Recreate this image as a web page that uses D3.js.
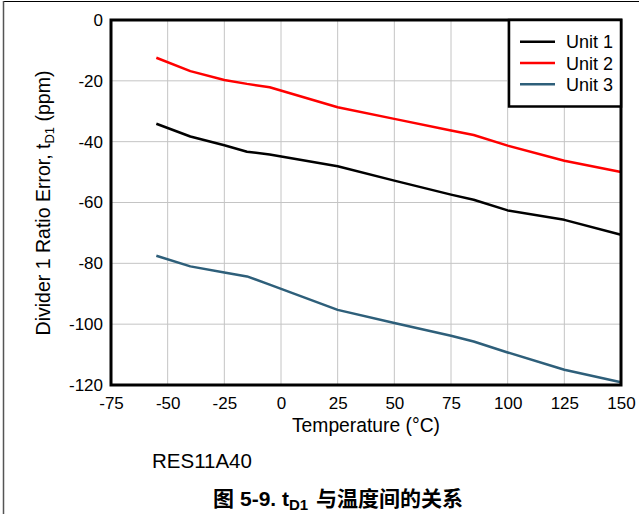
<!DOCTYPE html>
<html>
<head>
<meta charset="utf-8">
<script src="https://cdn.jsdelivr.net/npm/d3@7/dist/d3.min.js"></script>
<style>
  html, body { margin: 0; padding: 0; background: #fff; }
  svg { display: block; font-family: "Liberation Sans", Arial, sans-serif; }
</style>
</head>
<body>
<svg id="chart" width="639" height="514"></svg>
<script>
// Temperature sweep points (°C)
const temps = [-55, -40, -25, -15, -5, 25, 50, 75, 85, 100, 125, 150];
// Divider 1 ratio error per unit (ppm)
const unit1 = [-34.1, -38.3, -41.2, -43.3, -44.2, -48.1, -52.8, -57.4, -59.1, -62.6, -65.7, -70.6];
const unit2 = [-12.4, -16.8, -19.7, -21.0, -22.1, -28.7, -32.5, -36.3, -37.8, -41.3, -46.3, -50.0];
const unit3 = [-77.5, -81.0, -83.0, -84.3, -87.0, -95.3, -99.6, -103.8, -105.7, -109.3, -115.0, -119.1];
const seriesNames = ["Unit 1", "Unit 2", "Unit 3"];
const seriesColors = ["#000000", "#ff0000", "#2e5f7a"];
const xTicks = [-75, -50, -25, 0, 25, 50, 75, 100, 125, 150];
const yTicks = [0, -20, -40, -60, -80, -100, -120];

const series = [unit1, unit2, unit3].map((vals, i) => ({
  name: seriesNames[i], color: seriesColors[i],
  points: temps.map((t, j) => [t, vals[j]])
}));

const svg = d3.select("#chart");
const plot = { left: 111, right: 621, top: 20, bottom: 385 };

const x = d3.scaleLinear().domain([-75, 150]).range([plot.left, plot.right]);
const y = d3.scaleLinear().domain([-120, 0]).range([plot.bottom, plot.top]);

// Tick labels use a plain hyphen for negatives
const fmt = d => String(d);

// Page frame: top rule and left rule
svg.append("line").attr("x1", 3).attr("x2", 639).attr("y1", 1.5).attr("y2", 1.5)
  .attr("stroke", "#000").attr("stroke-width", 1.2);
svg.append("line").attr("x1", 3.5).attr("x2", 3.5).attr("y1", 1).attr("y2", 514)
  .attr("stroke", "#555").attr("stroke-width", 1.5);

// Grid
const grid = svg.append("g").attr("stroke", "#c4c4c4").attr("stroke-width", 1);
grid.selectAll(".gx").data(xTicks).join("line")
  .attr("x1", d => x(d)).attr("x2", d => x(d))
  .attr("y1", plot.top).attr("y2", plot.bottom);
grid.selectAll(".gy").data(yTicks).join("line")
  .attr("x1", plot.left).attr("x2", plot.right)
  .attr("y1", d => y(d)).attr("y2", d => y(d));

// Axes (labels only; the frame is drawn separately)
const xAxis = svg.append("g").attr("transform", `translate(0,${plot.bottom})`)
  .call(d3.axisBottom(x).tickValues(xTicks).tickSize(0).tickPadding(12).tickFormat(fmt));
const yAxis = svg.append("g").attr("transform", `translate(${plot.left},0)`)
  .call(d3.axisLeft(y).tickValues(yTicks).tickSize(0).tickPadding(8).tickFormat(fmt));
[xAxis, yAxis].forEach(a => {
  a.select(".domain").remove();
  a.selectAll("text").attr("font-size", 17).attr("fill", "#000")
    .attr("font-family", "'Liberation Sans', Arial, sans-serif");
});

// Data lines
const line = d3.line().x(d => x(d[0])).y(d => y(d[1]));
svg.append("g").selectAll("path").data(series).join("path")
  .attr("d", d => line(d.points))
  .attr("fill", "none")
  .attr("stroke", d => d.color)
  .attr("stroke-width", 2.5)
  .attr("stroke-linejoin", "round");

// Plot frame
svg.append("rect")
  .attr("x", plot.left).attr("y", plot.top)
  .attr("width", plot.right - plot.left).attr("height", plot.bottom - plot.top)
  .attr("fill", "none").attr("stroke", "#000").attr("stroke-width", 3);

// Legend
const lg = { left: 509, top: 20, right: 621, bottom: 106.5 };
svg.append("rect")
  .attr("x", lg.left).attr("y", lg.top)
  .attr("width", lg.right - lg.left).attr("height", lg.bottom - lg.top)
  .attr("fill", "#fff").attr("stroke", "#000").attr("stroke-width", 2.5);
const items = svg.append("g").selectAll("g").data(series).join("g")
  .attr("transform", (d, i) => `translate(0,${41.7 + i * 21.3})`);
items.append("line").attr("x1", 520).attr("x2", 555)
  .attr("stroke", d => d.color).attr("stroke-width", 2.5);
items.append("text").attr("x", 566).attr("y", 6.5)
  .attr("font-size", 18).attr("fill", "#000").text(d => d.name);

// Axis titles
svg.append("text")
  .attr("x", (plot.left + plot.right) / 2).attr("y", 432)
  .attr("text-anchor", "middle").attr("font-size", 19.3)
  .text("Temperature (°C)");

const yt = svg.append("text")
  .attr("transform", `translate(50,203) rotate(-90)`)
  .attr("text-anchor", "middle").attr("font-size", 19.5);
yt.append("tspan").text("Divider 1 Ratio Error, t");
yt.append("tspan").attr("font-size", 13).attr("dy", 4).text("D1");
yt.append("tspan").attr("dy", -4).text(" (ppm)");

// Part number note
svg.append("text").attr("x", 152).attr("y", 468)
  .attr("font-size", 20.5).text("RES11A40");

// Figure caption
const capY = 506;
svg.append("text").attr("x", 213).attr("y", capY)
  .attr("font-size", 21).attr("font-weight", "bold")
  .attr("font-family", "'Noto Sans CJK SC', sans-serif").text("图");
const capNum = svg.append("text").attr("x", 240).attr("y", capY)
  .attr("font-size", 21).attr("font-weight", "bold");
capNum.append("tspan").text("5-9. t");
capNum.append("tspan").attr("font-size", 15).attr("dy", 4).text("D1");
svg.append("text").attr("x", 316).attr("y", capY)
  .attr("font-size", 21).attr("font-weight", "bold")
  .attr("font-family", "'Noto Sans CJK SC', sans-serif").text("与温度间的关系");
</script>
</body>
</html>
